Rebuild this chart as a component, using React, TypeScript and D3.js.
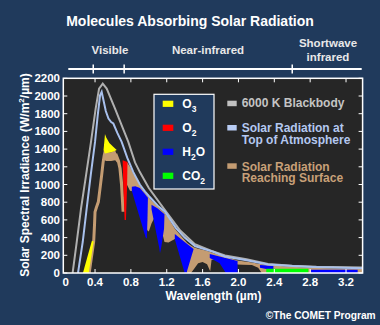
import React from 'react';
import * as d3 from 'd3';

const W = 380;
const H = 325;

// ---------- data ----------
const xTicks = [0, 0.4, 0.8, 1.2, 1.6, 2.0, 2.4, 2.8, 3.2];
const yTicks = [0, 200, 400, 600, 800, 1000, 1200, 1400, 1600, 1800, 2000, 2200];
const bandEdges = [0.38, 0.725, 2.6];

const blackbody: [number, number][] = [
  [0.15, 0], [0.196, 353], [0.244, 730], [0.3, 1106], [0.355, 1481], [0.407, 1858],
  [0.445, 2084], [0.486, 2140], [0.53, 2084], [0.623, 1858], [0.771, 1481], [0.846, 1250],
  [0.9, 1140], [1.0, 960], [1.18, 710], [1.35, 480], [1.514, 325], [1.7, 250], [1.85, 198],
  [2.09, 155], [2.33, 102], [2.6, 82], [2.87, 70], [3.385, 62],
];

const topOfAtmosphere: [number, number][] = [
  [0.21, 0], [0.263, 353], [0.307, 730], [0.352, 1106], [0.4, 1481], [0.43, 1782],
  [0.456, 2008], [0.474, 2046], [0.49, 1971], [0.52, 1830], [0.55, 1745], [0.58, 1705],
  [0.604, 1689], [0.65, 1580], [0.697, 1481], [0.76, 1300], [0.827, 1140], [0.9, 1000],
  [0.958, 920], [1.0, 870], [1.1, 760], [1.18, 692], [1.3, 510], [1.4, 400], [1.514, 305],
  [1.6, 275], [1.718, 240], [1.85, 185], [2.09, 145], [2.33, 95], [2.6, 78], [2.83, 68],
  [3.385, 55],
];

// surface spectrum drawn as a thick line (visible range)
const surfaceLeftLeg: [number, number][] = [
  [0.335, 0], [0.36, 180], [0.385, 355], [0.395, 560], [0.4, 690], [0.415, 740],
  [0.437, 804], [0.455, 950], [0.474, 1106], [0.49, 1250], [0.503, 1331], [0.512, 1360],
];
const surfaceRightLeg: [number, number][] = [
  [0.63, 1345], [0.66, 1270], [0.679, 1181], [0.697, 993], [0.708, 804], [0.714, 692],
];
// surface spectrum as a filled band: [wavelength, low, high]
const surfaceBand: [number, number, number][] = [
  [0.495, 1290, 1385], [0.52, 1265, 1365], [0.58, 1265, 1365], [0.625, 1275, 1385],
  [0.645, 1250, 1330],
];
const surfaceBandIR: [number, number, number][] = [
  [0.755, 1000, 1255], [0.79, 930, 1200], [0.83, 920, 1120], [0.86, 800, 1070],
  [0.9, 700, 985], [0.95, 560, 915], [0.985, 480, 870], [1.0, 470, 855], [1.03, 560, 820],
  [1.06, 620, 790], [1.1, 650, 745], [1.175, 350, 680], [1.22, 345, 620], [1.29, 385, 500],
  [1.35, 300, 430], [1.43, 0, 340], [1.47, 0, 310], [1.5, 40, 290], [1.55, 110, 275],
  [1.6, 125, 262], [1.65, 100, 250], [1.685, 20, 238], [1.7, 150, 232], [1.9, 150, 170],
  [1.99, 95, 140], [2.05, 92, 132], [2.15, 90, 120], [2.22, 60, 105], [2.26, 0, 98],
  [2.5, 0, 75], [2.8, 0, 60], [3.1, 0, 52], [3.385, 0, 45],
];

// absorption regions (closed outlines)
const ozoneUV: [number, number][] = [[0.265, 0], [0.33, 0], [0.385, 355], [0.365, 365]];
const ozoneVis: [number, number][] = [
  [0.495, 1390], [0.505, 1500], [0.511, 1570], [0.525, 1530], [0.56, 1470], [0.6, 1430],
  [0.642, 1390], [0.6, 1370], [0.55, 1360], [0.51, 1350],
];
const oxygenA: [number, number][] = [
  [0.708, 1275], [0.762, 1255], [0.758, 1000], [0.745, 600], [0.73, 600], [0.715, 1000],
];
const waterBands: [number, number][][] = [
  [[0.81, 975], [0.85, 980], [0.9, 960], [0.95, 900], [0.99, 850], [0.985, 600], [0.978, 390], [0.965, 400], [0.81, 930]],
  [[1.03, 770], [1.1, 730], [1.175, 665], [1.17, 500], [1.14, 300], [1.125, 222], [1.115, 290], [1.03, 720]],
  [[1.29, 440], [1.4, 350], [1.5, 270], [1.42, 0], [1.4, 0], [1.29, 380]],
  [[1.68, 215], [1.8, 185], [1.99, 135], [1.99, 0], [1.86, 0], [1.79, 110], [1.72, 150], [1.68, 170]],
  [[2.24, 90], [2.39, 80], [2.39, 40], [2.31, 45], [2.24, 60]],
  [[2.81, 36], [3.33, 36], [3.33, 0], [2.81, 0]],
];
const co2Bands: [number, number][][] = [
  [[2.31, 48], [2.78, 48], [2.78, 0], [2.31, 0]],
];

const moleculeLegend = [
  { base: 'O', sub: '3', tail: '', color: '#ffff00' },
  { base: 'O', sub: '2', tail: '', color: '#ff0000' },
  { base: 'H', sub: '2', tail: 'O', color: '#0000ff' },
  { base: 'CO', sub: '2', tail: '', color: '#00ff00' },
];

const BG = '#203a5c';
const PLOT_BG = '#262626';
const TAN = '#c49c72';
const GRAY = '#b0b0b0';
const LIGHTBLUE = '#a8c0ec';
const FONT = '"Liberation Sans", Arial, Helvetica, sans-serif';

export default function App() {
  const left = 63.3, right = 362.6, top = 78.3, bottom = 273;
  const x = d3.scaleLinear().domain([0.046, 3.385]).range([left, right]);
  const y = d3.scaleLinear().domain([0, 2200]).range([bottom, top]);

  const line = d3.line<[number, number]>().x((d) => x(d[0])).y((d) => y(d[1]));
  const area = d3
    .area<[number, number, number]>()
    .x((d) => x(d[0]))
    .y0((d) => y(d[1]))
    .y1((d) => y(d[2]));
  const poly = (pts: [number, number][]) => line(pts) + 'Z';

  return (
    <svg width={W} height={H} style={{ position: 'absolute', left: 0, top: 0 }} fontFamily={FONT} fontWeight="bold">
      <rect x={0} y={0} width={W} height={H} fill={BG} />
      <defs>
        <clipPath id="plotClip">
          <rect x={left} y={top} width={right - left} height={bottom - top} />
        </clipPath>
      </defs>

      {/* title */}
      <text x={190} y={26} textAnchor="middle" fill="#ffffff" fontSize={14}>
        Molecules Absorbing Solar Radiation
      </text>

      {/* spectral regions */}
      <g fill="#e8e8e8" fontSize={11.5} textAnchor="middle">
        <text x={110} y={54}>Visible</text>
        <text x={208} y={54}>Near-infrared</text>
        <text x={328} y={46.5}>Shortwave</text>
        <text x={328} y={61}>infrared</text>
      </g>
      <line x1={68.3} x2={361.7} y1={69} y2={69} stroke="#ffffff" strokeWidth={2} />
      {bandEdges.map((b) => (
        <line key={b} x1={x(b)} x2={x(b)} y1={64.5} y2={73.5} stroke="#ffffff" strokeWidth={1.5} />
      ))}

      {/* plot area */}
      <rect x={left} y={top} width={right - left} height={bottom - top} fill={PLOT_BG} />
      <g clipPath="url(#plotClip)">
        <path d={area(surfaceBand) || ''} fill={TAN} />
        <path d={area(surfaceBandIR) || ''} fill={TAN} />
        <path d={line(surfaceLeftLeg) || ''} fill="none" stroke={TAN} strokeWidth={3} />
        <path d={line(surfaceRightLeg) || ''} fill="none" stroke={TAN} strokeWidth={3.2} />
        <path d={poly(ozoneUV)} fill="#ffff00" />
        <path d={poly(ozoneVis)} fill="#ffff00" />
        <path d={poly(oxygenA)} fill="#ff0000" />
        {waterBands.map((b, i) => (
          <path key={'w' + i} d={poly(b)} fill="#0000ff" />
        ))}
        {co2Bands.map((b, i) => (
          <path key={'c' + i} d={poly(b)} fill="#00ff00" />
        ))}
        <path d={line(blackbody) || ''} fill="none" stroke={GRAY} strokeWidth={2} />
        <path d={line(topOfAtmosphere) || ''} fill="none" stroke={LIGHTBLUE} strokeWidth={2} />
      </g>
      <rect x={left} y={top} width={right - left} height={bottom - top} fill="none" stroke="#ffffff" strokeWidth={1.5} />

      {/* ticks */}
      <g stroke="#ffffff" strokeWidth={1}>
        {xTicks.filter((t) => t > 0).map((t) => (
          <g key={'xt' + t}>
            <line x1={x(t)} x2={x(t)} y1={top} y2={top + 4} />
            <line x1={x(t)} x2={x(t)} y1={bottom} y2={bottom - 4} />
          </g>
        ))}
        {yTicks.map((t) => (
          <g key={'yt' + t}>
            <line x1={left} x2={left + 4} y1={y(t)} y2={y(t)} />
            <line x1={right} x2={right - 4} y1={y(t)} y2={y(t)} />
          </g>
        ))}
      </g>
      <g fill="#ffffff" fontSize={11.5}>
        {xTicks.map((t) => (
          <text key={'xl' + t} x={Math.max(x(t), left + 2.3)} y={286} textAnchor="middle">
            {t === 0 ? '0' : t.toFixed(1)}
          </text>
        ))}
        {yTicks.map((t) => (
          <text key={'yl' + t} x={60} y={y(t) + 4} textAnchor="end">
            {t}
          </text>
        ))}
      </g>

      {/* axis titles */}
      <text x={213.5} y={299.5} textAnchor="middle" fill="#ffffff" fontSize={12}>
        Wavelength (µm)
      </text>
      <text transform="translate(29,175) rotate(-90)" textAnchor="middle" fill="#ffffff" fontSize={12}>
        Solar Spectral Irradiance (W/m<tspan dy={-5} fontSize={8}>2</tspan>
        <tspan dy={5}>/µm)</tspan>
      </text>

      {/* molecule legend */}
      <rect x={154} y={94.3} width={60} height={94.7} fill={BG} stroke="#ffffff" strokeWidth={1.2} />
      {moleculeLegend.map((m, i) => {
        const cy = 103.7 + i * 24;
        return (
          <g key={'ml' + i}>
            <rect x={162.7} y={cy - 3} width={10.6} height={6.2} fill={m.color} />
            <text x={182.3} y={cy + 4.6} fill="#ffffff" fontSize={12}>
              {m.base}
              <tspan dy={3.5} fontSize={8.5}>{m.sub}</tspan>
              {m.tail ? <tspan dy={-3.5}>{m.tail}</tspan> : null}
            </text>
          </g>
        );
      })}

      {/* curve legend */}
      <g fontSize={12}>
        <rect x={227.3} y={100.7} width={9.4} height={5.5} fill="#c0c0c0" />
        <text x={241.7} y={106.7} fill="#c4c4c4">6000 K Blackbody</text>
        <rect x={227.3} y={125} width={9.4} height={5.5} fill="#b8ccf4" />
        <text x={241.7} y={132.3} fill="#b4c8f0">Solar Radiation at</text>
        <text x={241.7} y={143.8} fill="#b4c8f0">Top of Atmosphere</text>
        <rect x={227.3} y={163.3} width={9.4} height={5.5} fill={TAN} />
        <text x={241.7} y={170.5} fill="#c8a078">Solar Radiation</text>
        <text x={241.7} y={182} fill="#c8a078">Reaching Surface</text>
      </g>

      {/* credit */}
      <text x={375.7} y={319.3} textAnchor="end" fill="#ffffff" fontSize={10.2}>
        ©The COMET Program
      </text>
    </svg>
  );
}
